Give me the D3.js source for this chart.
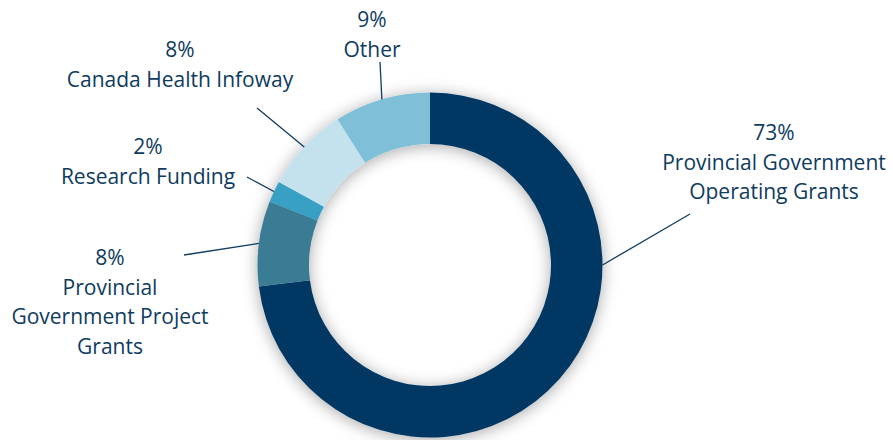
<!DOCTYPE html>
<html><head><meta charset="utf-8">
<script src="https://cdn.jsdelivr.net/npm/d3@7"></script>
<style>html,body{margin:0;padding:0;background:#fff;}svg{display:block;}</style>
</head><body>
<svg id="chart" width="893" height="440"></svg>
<script>
const categories = ["Provincial Government Operating Grants","Provincial Government Project Grants","Research Funding","Canada Health Infoway","Other"];
const values = [73, 8, 2, 8, 9];
const labelLines = [["73%","Provincial Government","Operating Grants"],["8%","Provincial","Government Project","Grants"],["2%","Research Funding"],["8%","Canada Health Infoway"],["9%","Other"]];
const colors = ["#033964","#3a7b95","#37a0c4","#c3e2ee","#7fc0d8"];

// layout (positions of label blocks, leader starts, leader angle override)
const cx = 430, cy = 265, rOuter = 172.5, rInner = 121;
const labelLayout = [
  {x: 774, y: 133, lx: 690, ly: 214, angle: 90},
  {x: 110, y: 258, lx: 184, ly: 255},
  {x: 148, y: 147, lx: 247, ly: 177},
  {x: 180, y: 50,  lx: 257, ly: 108},
  {x: 372, y: 20,  lx: 380, ly: 62}
];
const lineH = 29.5;
const textColor = "#0e3b60";

const svg = d3.select("#chart");
const defs = svg.append("defs");
const f = defs.append("filter").attr("id","sh").attr("x","-20%").attr("y","-20%").attr("width","140%").attr("height","140%");
f.append("feDropShadow").attr("dx",0).attr("dy",2).attr("stdDeviation",8).attr("flood-color","#000").attr("flood-opacity",0.34);

const pie = d3.pie().sort(null).value(d => d)(values);
const arc = d3.arc().innerRadius(rInner).outerRadius(rOuter);
const g = svg.append("g").attr("transform",`translate(${cx},${cy})`);
g.append("g").attr("filter","url(#sh)").selectAll("path").data(pie).join("path")
  .attr("d", arc).attr("fill",(d,i)=>colors[i]);

// leaders
const lg = svg.append("g");
pie.forEach((d,i) => {
  const L = labelLayout[i];
  const a = (L.angle !== undefined ? L.angle * Math.PI/180 : (d.startAngle + d.endAngle)/2);
  const ex = cx + rOuter*Math.sin(a), ey = cy - rOuter*Math.cos(a);
  lg.append("line").attr("x1",L.lx).attr("y1",L.ly).attr("x2",ex).attr("y2",ey)
    .attr("stroke","#0e3b60").attr("stroke-width",1.3);
});

// labels
const tg = svg.append("g").attr("font-family","'Open Sans', sans-serif").attr("font-size",21).attr("fill",textColor).attr("text-anchor","middle");
labelLines.forEach((lines,i) => {
  const L = labelLayout[i];
  const t = tg.append("text");
  lines.forEach((s,j) => {
    t.append("tspan").attr("x",L.x).attr("y",L.y + j*lineH).attr("dy","0.35em").text(s);
  });
});
</script>
</body></html>
